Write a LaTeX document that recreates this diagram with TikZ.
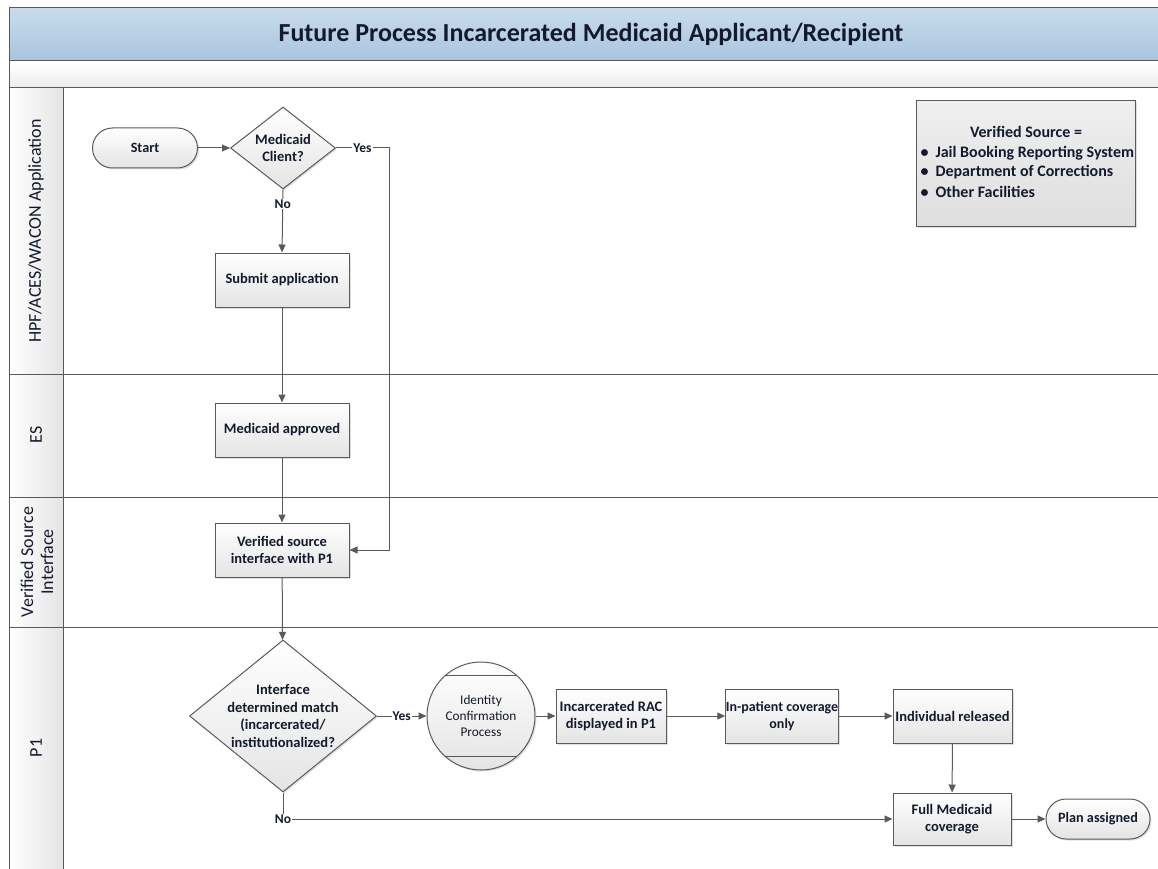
\documentclass[tikz,border=0pt]{standalone}
\usepackage{fontspec}
\setmainfont{Carlito}
\usetikzlibrary{shapes.geometric,arrows.meta,shadows}
\definecolor{linegray}{HTML}{5A5A5A}
\definecolor{inkblue}{HTML}{141A2E}
\definecolor{bandtop}{HTML}{C8DBEC}
\definecolor{bandbot}{HTML}{A9C5DF}
\definecolor{boxgray}{HTML}{E4E4E4}
\tikzset{
  shadowed/.style={drop shadow={shadow xshift=1.5pt,shadow yshift=-1.5pt,opacity=0.25}},
  procbox/.style={draw=linegray, line width=1pt, rectangle, top color=white, bottom color=boxgray,
    minimum width=134pt, minimum height=54pt, inner sep=2pt, align=center, text=inkblue,
    font=\bfseries\fontsize{14.5}{17}\selectfont, shadowed},
  decision/.style={draw=linegray, line width=1pt, diamond, top color=white, bottom color=boxgray,
    inner sep=-6pt, align=center, text=inkblue, font=\bfseries\fontsize{14.5}{17.5}\selectfont, shadowed},
  terminal/.style={draw=linegray, line width=1pt, rectangle, rounded corners=20pt, top color=white,
    bottom color=boxgray, minimum height=40pt, inner sep=2pt, align=center, text=inkblue,
    font=\bfseries\fontsize{14.2}{16}\selectfont, shadowed},
  subproc/.style={draw=linegray, line width=1pt, circle, top color=white, bottom color=boxgray,
    minimum size=108pt, inner sep=0pt, align=center, text=inkblue,
    font=\fontsize{13.3}{16}\selectfont, shadowed},
  lanetitle/.style={rotate=90, align=center, text=inkblue, font=\fontsize{18}{20}\selectfont},
  legendtext/.style={text=inkblue, font=\bfseries\fontsize{16}{18}\selectfont},
  lbl/.style={fill=white, inner sep=1pt, text=inkblue, font=\bfseries\fontsize{13.5}{14}\selectfont},
  arrow/.style={draw=linegray, line width=1pt, -{Triangle[length=8pt,width=7pt]}},
  frame/.style={draw=linegray, line width=1pt}
}
\begin{document}
\begin{tikzpicture}[x=1pt, y=-1pt]
  \useasboundingbox (0,0) rectangle (1158,869);
  \clip (0,0) rectangle (1158,869);
  % pool and lanes
  \fill[top color=bandtop, bottom color=bandbot] (9,8) rectangle (1170,61);
  \fill[top color=white, bottom color=boxgray!70] (9,61) rectangle (1170,88);
  \fill[left color=white, right color=boxgray] (9,88) rectangle (63,880);
  \draw[frame] (1170,8) -- (9,8) -- (9,880);
  \draw[frame] (9,61) -- (1170,61);
  \draw[frame] (9,88) -- (1170,88);
  \draw[frame] (9,374) -- (1170,374);
  \draw[frame] (9,497) -- (1170,497);
  \draw[frame] (9,627) -- (1170,627);
  \draw[frame] (63,88) -- (63,880);
  \node[text=inkblue, font=\bfseries\fontsize{26}{28}\selectfont] (title) at (591,34) {Future Process Incarcerated Medicaid Applicant/Recipient};
  \node[lanetitle] (laneA) at (36,231) {HPF/ACES/WACON Application};
  \node[lanetitle] (laneB) at (36,435) {ES};
  \node[lanetitle] (laneC) at (37,562) {Verified Source\\Interface};
  \node[lanetitle] (laneD) at (36,748) {P1};
  % legend
  \node[draw=linegray, line width=1pt, top color=boxgray!60, bottom color=boxgray!120, shadowed,
    minimum width=219pt, minimum height=125pt, inner sep=0pt] (legend) at (1025.5,163.5) {};
  \node[legendtext] (legendhead) at (1026,132) {Verified Source =};
  \node[legendtext, anchor=west] (src1) at (917,153) {\textbullet\hspace{7pt}Jail Booking Reporting System};
  \node[legendtext, anchor=west] (src2) at (917,172) {\textbullet\hspace{7pt}Department of Corrections};
  \node[legendtext, anchor=west] (src3) at (917,192) {\textbullet\hspace{7pt}Other Facilities};
  % process
  \node[terminal, minimum width=105pt] (start) at (145,148) {Start};
  \node[decision, minimum width=105pt, minimum height=82pt] (client) at (283,148) {Medicaid\\Client?};
  \node[procbox] (submit) at (282,280) {Submit application};
  \node[procbox] (approved) at (282,430) {Medicaid approved};
  \node[procbox] (verify) at (282,550) {Verified source\\interface with P1};
  \node[decision, minimum width=187pt, minimum height=152pt] (match) at (283,716) {Interface\\determined match\\(incarcerated/\\institutionalized?};
  \node[subproc] (identity) at (481,716) {Identity\\Confirmation\\Process};
  \draw[draw=linegray, line width=1pt] (identity.132) -- (identity.48);
  \draw[draw=linegray, line width=1pt] (identity.-132) -- (identity.-48);
  \node[procbox, minimum width=110pt, inner xsep=0pt] (rac) at (611,716) {Incarcerated RAC\\displayed in P1};
  \node[procbox, minimum width=112pt, inner xsep=0pt, font=\bfseries\fontsize{14}{17}\selectfont] (inpatient) at (782,716) {In-patient coverage\\only};
  \node[procbox, minimum width=119pt] (released) at (952.5,716) {Individual released};
  \node[procbox, minimum width=118pt, minimum height=52pt] (full) at (952,819) {Full Medicaid\\coverage};
  \node[terminal, minimum width=104pt] (plan) at (1098,819) {Plan assigned};
  \coordinate (yesbend) at (389,148);
  \draw[arrow] (start) -- (client);
  \draw[arrow] (client.east) -- node[lbl]{Yes} (yesbend) |- (verify.east);
  \draw[arrow] (client.south) -- node[lbl, pos=0.23]{No} (submit.north);
  \draw[arrow] (submit) -- (approved);
  \draw[arrow] (approved) -- (verify);
  \draw[arrow] (verify) -- (match);
  \draw[arrow] (match.east) -- node[lbl]{Yes} (identity.west);
  \draw[arrow] (identity) -- (rac);
  \draw[arrow] (rac) -- (inpatient);
  \draw[arrow] (inpatient) -- (released);
  \draw[arrow] (released) -- (full);
  \draw[arrow] (match.south) |- node[lbl, pos=0.5]{No} (full.west);
  \draw[arrow] (full) -- (plan);
\end{tikzpicture}
\end{document}
